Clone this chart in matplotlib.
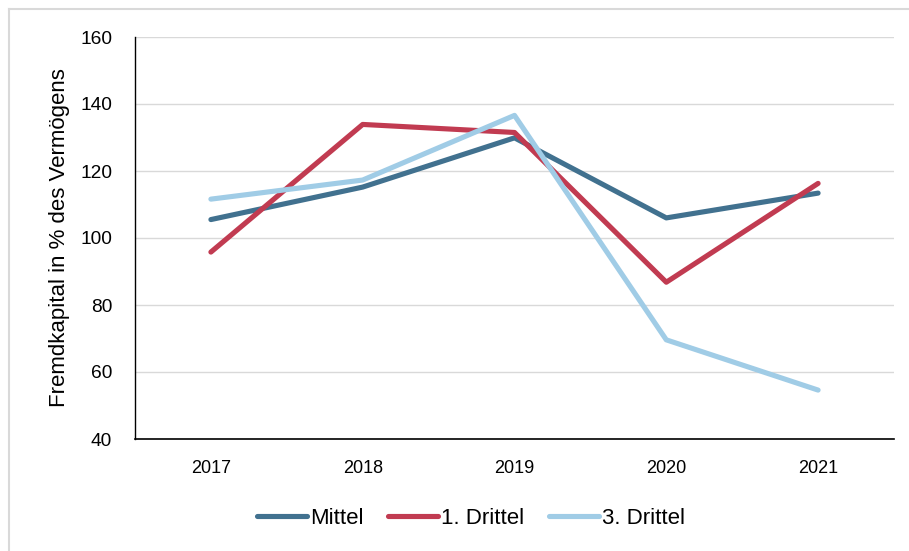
import matplotlib
matplotlib.use("Agg")
import matplotlib.pyplot as plt
from matplotlib.lines import Line2D

years = ["2017", "2018", "2019", "2020", "2021"]
mittel = [105.5, 115.2, 129.9, 106.0, 113.4]
drittel1 = [95.8, 133.9, 131.5, 86.8, 116.3]
drittel3 = [111.6, 117.3, 136.6, 69.6, 54.6]
yticks = [40, 60, 80, 100, 120, 140, 160]

plt.rcParams['font.family'] = ['Liberation Sans', 'DejaVu Sans']

W, H = 909, 551
fig = plt.figure(figsize=(W/100, H/100), dpi=100)
# outer border: only top and left edges visible
fig.add_artist(Line2D([8.5/W, 8.5/W], [0, 1-8.5/H], transform=fig.transFigure, color='#d9d9d9', lw=1.5))
fig.add_artist(Line2D([8.5/W, 1], [1-8.5/H, 1-8.5/H], transform=fig.transFigure, color='#d9d9d9', lw=1.5))

ax = fig.add_axes([135/W, 1-439/H, (894-135)/W, (439-37)/H])

x = range(len(years))
ax.plot(x, mittel, color='#41718f', lw=3.7, label='Mittel', solid_capstyle='round')
ax.plot(x, drittel1, color='#c13b51', lw=3.7, label='1. Drittel', solid_capstyle='round')
ax.plot(x, drittel3, color='#a0cce6', lw=3.7, label='3. Drittel', solid_capstyle='round')

ax.set_xlim(-0.5, len(years)-0.5)
ax.set_ylim(40, 160)
ax.set_yticks(yticks)
ax.set_xticks(list(x))
ax.set_xticklabels(years)
ax.yaxis.grid(True, color='#d9d9d9', lw=1)
ax.set_axisbelow(True)
for s in ['top', 'right']:
    ax.spines[s].set_visible(False)
ax.spines['left'].set_color('black')
ax.spines['bottom'].set_color('black')
ax.spines['left'].set_linewidth(1)
ax.spines['bottom'].set_linewidth(1.2)
ax.tick_params(axis='both', length=0, colors='black')
ax.tick_params(axis='x', pad=15, labelsize=13)
ax.tick_params(axis='y', pad=16.5, labelsize=13.8)
ax.set_ylabel('Fremdkapital in % des Vermögens', fontsize=16)
ax.yaxis.set_label_coords((70-135)/759, 0.5)

leg = ax.legend(loc='center', bbox_to_anchor=((471-135)/759, -(518-439)/402),
                ncol=3, frameon=False, fontsize=16, handlelength=2.25, handletextpad=0.15,
                columnspacing=1.1)

fig.savefig('out.png', dpi=100)
